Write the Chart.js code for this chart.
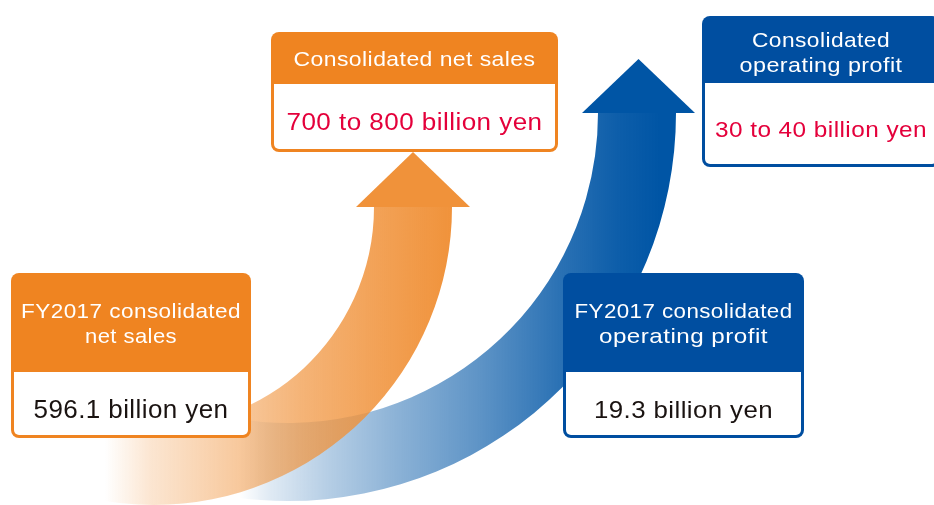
<!DOCTYPE html>
<html>
<head>
<meta charset="utf-8">
<script src="https://cdn.jsdelivr.net/npm/chart.js@4"></script>
<style>
  html, body { margin: 0; padding: 0; background: #fff; }
  #wrap { width: 934px; height: 505px; position: relative; }
</style>
</head>
<body>
<div id="wrap"><canvas id="chart"></canvas></div>
<script>
// figures shown in the graphic
const categories = ['net sales', 'operating profit'];
const fy2017Values = [596.1, 19.3];
const targetLow = [700, 30];
const targetHigh = [800, 40];
const unit = 'billion yen';
const currentTitles = [['FY2017 consolidated', 'net sales'], ['FY2017 consolidated', 'operating profit']];
const targetTitles = [['Consolidated net sales'], ['Consolidated', 'operating profit']];

const ORANGE = '#EF8421';
const BLUE = '#004EA0';
const RED = '#E4003B';
const FONT = '"Liberation Sans", Arial, sans-serif';

// where each series sits in the picture (arrow + two boxes)
// widths = text widths measured on the original, text is stretched to them
const layout = [
  {
    color: ORANGE, rgb: '240, 146, 58',
    band: { cx: 154, cy: 207, r1: 220, r2: 298, end: 2.0, x0: 105, x1: 455,
            stops: [[0, 0], [0.13, 0.23], [0.41, 0.53], [0.56, 0.69], [0.77, 0.85], [1, 1]] },
    head: { base: 206, left: 356, right: 470, tip: 152 },
    from: { x: 11, y: 273, w: 240, h: 165, hh: 99, lines: [318, 343], titleSize: 21, titleW: [220, 92],
            value: 418, valueSize: 25, valueW: 195 },
    to: { x: 271, y: 32, w: 287, h: 120, hh: 52, lines: [66], titleSize: 21, titleW: [242],
          value: 130, valueSize: 23, valueW: 256 }
  },
  {
    color: BLUE, rgb: '0, 85, 165',
    band: { cx: 288, cy: 113, r1: 310, r2: 388, end: 1.85, x0: 240, x1: 660,
            stops: [[0, 0], [0.07, 0.12], [0.21, 0.29], [0.38, 0.46], [0.57, 0.63], [0.76, 0.83], [0.9, 0.95], [1, 1]] },
    head: { base: 112, left: 582, right: 695, tip: 59 },
    from: { x: 563, y: 273, w: 241, h: 165, hh: 99, lines: [318, 343], titleSize: 21, titleW: [218, 169],
            value: 418, valueSize: 24, valueW: 179 },
    to: { x: 702, y: 16, w: 238, h: 151, hh: 67, lines: [47, 72], titleSize: 21, titleW: [138, 163],
          value: 137, valueSize: 22, valueW: 212 }
  }
];

function drawBand(ctx, L) {
  const b = L.band;
  const g = ctx.createLinearGradient(b.x0, 0, b.x1, 0);
  b.stops.forEach(([f, a]) => g.addColorStop(f, `rgba(${L.rgb}, ${a})`));
  ctx.beginPath();
  ctx.arc(b.cx, b.cy, b.r2, 0, b.end, false);
  ctx.arc(b.cx, b.cy, b.r1, b.end, 0, true);
  ctx.closePath();
  ctx.fillStyle = g;
  ctx.fill();
}

function drawHead(ctx, L) {
  const h = L.head;
  ctx.beginPath();
  ctx.moveTo(h.left, h.base + 1);
  ctx.lineTo((h.left + h.right) / 2, h.tip);
  ctx.lineTo(h.right, h.base + 1);
  ctx.closePath();
  ctx.fillStyle = `rgb(${L.rgb})`;
  ctx.fill();
}

// the original face is wider than Arial: stretch each line to its measured width
function fitText(ctx, text, cx, y, size, width) {
  ctx.font = `${size}px ${FONT}`;
  ctx.letterSpacing = '0.4px';
  const natural = ctx.measureText(text).width;
  ctx.save();
  ctx.translate(cx, y);
  ctx.scale(width / natural, 1);
  ctx.textAlign = 'center';
  ctx.fillText(text, 0, 0);
  ctx.restore();
  ctx.letterSpacing = '0px';
}

function drawBox(ctx, B, color, titles, valueText, valueColor) {
  const bw = 3, r = 8;
  ctx.fillStyle = color;
  ctx.beginPath();
  ctx.roundRect(B.x, B.y, B.w, B.h, r);
  ctx.fill();
  ctx.fillStyle = '#fff';
  ctx.beginPath();
  ctx.roundRect(B.x + bw, B.y + B.hh, B.w - 2 * bw, B.h - B.hh - bw, [0, 0, r - 3, r - 3]);
  ctx.fill();

  const cx = B.x + B.w / 2;
  ctx.textBaseline = 'alphabetic';
  ctx.fillStyle = '#fff';
  titles.forEach((t, i) => fitText(ctx, t, cx, B.lines[i], B.titleSize, B.titleW[i]));
  ctx.fillStyle = valueColor;
  fitText(ctx, valueText, cx, B.value, B.valueSize, B.valueW);
}

const infographic = {
  id: 'infographic',
  afterDraw(chart) {
    const ctx = chart.ctx;
    ctx.save();
    // blue band under the orange one
    drawBand(ctx, layout[1]);
    drawBand(ctx, layout[0]);
    drawHead(ctx, layout[1]);
    drawHead(ctx, layout[0]);
    categories.forEach((c, i) => {
      const L = layout[i];
      drawBox(ctx, L.from, L.color, currentTitles[i], `${fy2017Values[i]} ${unit}`, '#1a1311');
      drawBox(ctx, L.to, L.color, targetTitles[i], `${targetLow[i]} to ${targetHigh[i]} ${unit}`, RED);
    });
    ctx.restore();
  }
};

new Chart(document.getElementById('chart'), {
  type: 'bar',
  data: {
    labels: categories,
    datasets: [
      { label: 'FY2017', data: fy2017Values, backgroundColor: 'transparent' },
      { label: 'Target', data: targetHigh, backgroundColor: 'transparent' }
    ]
  },
  options: {
    responsive: true,
    maintainAspectRatio: false,
    animation: false,
    events: [],
    layout: { padding: 0 },
    scales: { x: { display: false }, y: { display: false } },
    plugins: { legend: { display: false }, tooltip: { enabled: false } }
  },
  plugins: [infographic]
});
</script>
</body>
</html>
